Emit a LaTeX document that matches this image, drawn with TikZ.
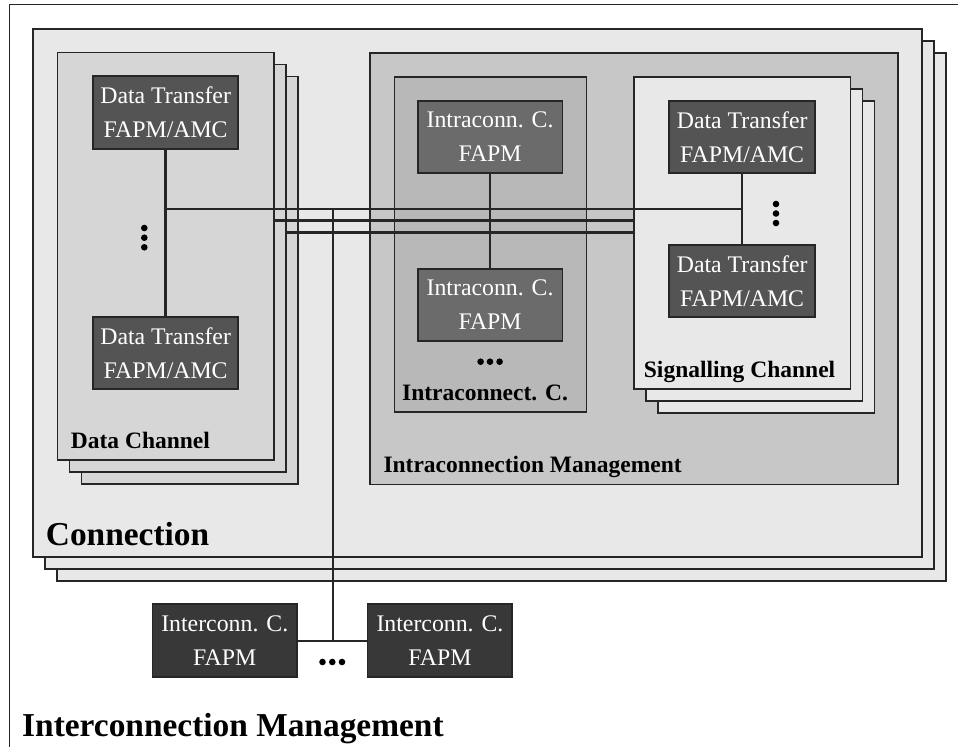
\documentclass[tikz,border=0pt]{standalone}
\usepackage{fontspec}
\setmainfont{Liberation Serif}
\definecolor{connfill}{gray}{0.91}
\definecolor{dcfill}{gray}{0.84}
\definecolor{mgmtfill}{gray}{0.78}
\definecolor{icfill}{gray}{0.72}
\definecolor{sigfill}{gray}{0.91}
\definecolor{dtfill}{gray}{0.33}
\definecolor{iafill}{gray}{0.42}
\definecolor{iefill}{gray}{0.22}
\begin{document}
\begin{tikzpicture}[x=1pt,y=-1pt,
  frame/.style={draw=black!85, line width=1.7pt, rectangle, inner sep=0pt, outer sep=0pt, anchor=north west},
  wire/.style={line width=2.5pt, draw=black!85},
  boxtxt/.style={text=white, align=center, font=\fontsize{23.8}{34}\selectfont},
  lbl/.style={anchor=base west, inner sep=0pt, font=\bfseries\fontsize{23.5}{28}\selectfont},
  biglbl/.style={anchor=base west, inner sep=0pt, font=\bfseries\fontsize{33.4}{40}\selectfont}]
\useasboundingbox (0,0) rectangle (958,747);
% outer frame (right and bottom edges lie outside the picture)
\draw[line width=1.4pt, black!85] (9.3,747) -- (9.3,4.7) -- (958,4.7);

% Connection stack
\node[frame, fill=connfill, minimum width=889pt, minimum height=528pt] (conn3) at (57,53) {};
\node[frame, fill=connfill, minimum width=889pt, minimum height=528pt] (conn2) at (45,41) {};
\node[frame, fill=connfill, minimum width=889pt, minimum height=528pt] (conn) at (33,29) {};
\node[biglbl] (connlbl) at (45.7,545) {Connection};

% Data channel stack
\node[frame, fill=dcfill, minimum width=216.5pt, minimum height=407.5pt] (dc3) at (81.5,76.5) {};
\node[frame, fill=dcfill, minimum width=216.5pt, minimum height=407.5pt] (dc2) at (69.5,64.5) {};
\node[frame, fill=dcfill, minimum width=216.5pt, minimum height=407.5pt] (dc) at (57.5,52.5) {};
\node[lbl] (dclbl) at (70.7,448.5) {Data Channel};

% Intraconnection management
\node[frame, fill=mgmtfill, minimum width=528pt, minimum height=431.8pt] (mgmt) at (370,52.7) {};
\node[lbl] (mgmtlbl) at (383.3,472.7) {Intraconnection Management};

% Intraconnect. C.
\node[frame, fill=icfill, minimum width=192pt, minimum height=335.6pt] (ic) at (394.5,76.7) {};
\node[lbl] (iclbl) at (402,400.7) {Intraconnect. C.};

% Signalling channel stack
\node[frame, fill=sigfill, minimum width=216.5pt, minimum height=312.3pt] (sig3) at (658,100.7) {};
\node[frame, fill=sigfill, minimum width=216.5pt, minimum height=312.3pt] (sig2) at (646,88.7) {};
\node[frame, fill=sigfill, minimum width=216.5pt, minimum height=312.3pt] (sig) at (634,76.7) {};
\node[lbl] (siglbl) at (643.7,377.3) {Signalling Channel};

% junction coordinates
\coordinate (jA) at (165.7,209);
\coordinate (jB) at (742.2,209);
\coordinate (jT) at (333,209);
\coordinate (l2a) at (274,220.7);
\coordinate (l2b) at (634,220.7);
\coordinate (l3a) at (286,232.3);
\coordinate (l3b) at (634,232.3);

% wires
\draw[wire] (jA) -- (jB);
\draw[wire] (l2a) -- (l2b);
\draw[wire] (l3a) -- (l3b);

% inner boxes
\node[frame, fill=dtfill, minimum width=144.7pt, minimum height=72.4pt, boxtxt] (dt1) at (93.3,76.3) {Data Transfer\\FAPM/AMC};
\node[frame, fill=dtfill, minimum width=144.7pt, minimum height=72.6pt, boxtxt] (dt2) at (93.3,316.7) {Data Transfer\\FAPM/AMC};
\node[frame, fill=iafill, minimum width=144.8pt, minimum height=72pt, boxtxt] (ia1) at (417.7,100.7) {Intraconn. C.\\FAPM};
\node[frame, fill=iafill, minimum width=144.8pt, minimum height=72.6pt, boxtxt] (ia2) at (417.7,268.7) {Intraconn. C.\\FAPM};
\node[frame, fill=dtfill, minimum width=145.7pt, minimum height=72.6pt, boxtxt] (sd1) at (669.3,100.7) {Data Transfer\\FAPM/AMC};
\node[frame, fill=dtfill, minimum width=145.7pt, minimum height=71.7pt, boxtxt] (sd2) at (669.3,245) {Data Transfer\\FAPM/AMC};
\node[frame, fill=iefill, minimum width=144.7pt, minimum height=73pt, boxtxt] (ie1) at (152.4,604.3) {Interconn. C.\\FAPM};
\node[frame, fill=iefill, minimum width=144.7pt, minimum height=73pt, boxtxt] (ie2) at (367.6,604.3) {Interconn. C.\\FAPM};

\draw[wire] (dt1.south) -- (dt2.north);
\draw[wire] (ia1.south) -- (ia2.north);
\draw[wire] (sd1.south) -- (sd2.north);
\draw[wire] (ie1.east) -- (ie2.west);
\draw[wire] (jT) -- (jT |- ie1.east);

% ellipses
\foreach \y in {228,237.7,247.3} \fill (144.3,\y) circle (3.3);
\foreach \y in {204,213.5,223} \fill (776,\y) circle (3.3);
\foreach \x in {480.6,490,499.6} \fill (\x,361.7) circle (3.3);
\foreach \x in {322.5,332.3,342} \fill (\x,662) circle (3.3);

\node[biglbl] (ielbl) at (22,736.7) {Interconnection Management};
\end{tikzpicture}
\end{document}
